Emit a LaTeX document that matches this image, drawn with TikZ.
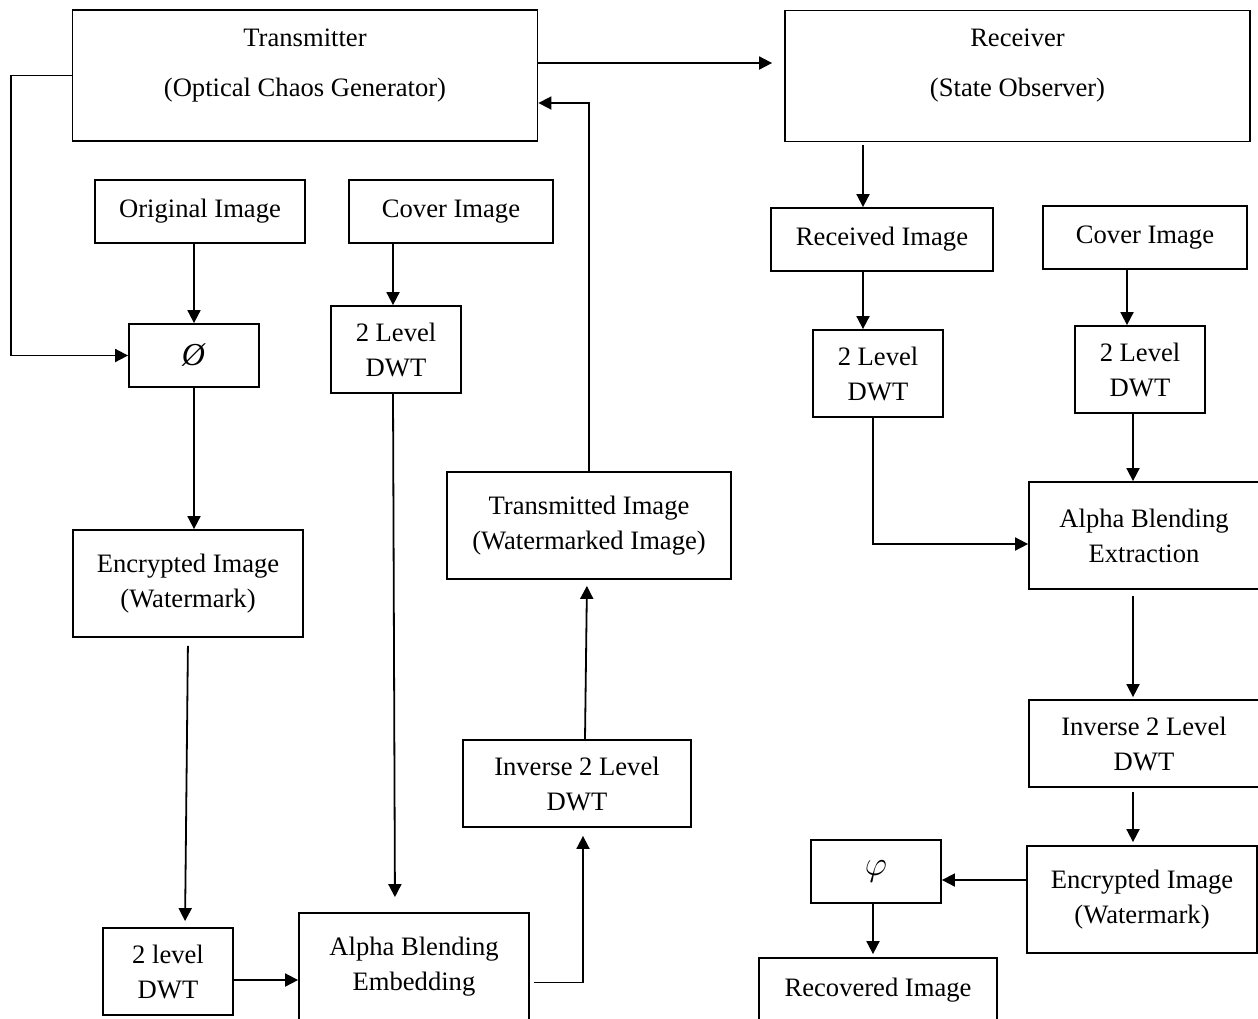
\documentclass[tikz,border=0pt]{standalone}
\usepackage{fontspec}
\setmainfont{Liberation Serif}
\usetikzlibrary{arrows.meta,calc}

\begin{document}
\begin{tikzpicture}[x=0.5pt,y=-0.5pt,
    box/.style={draw,line width=0.9pt,inner sep=0pt,align=center,
        font=\fontsize{13.3}{17.5}\selectfont},
    onebox/.style={box,minimum height=31.5pt},
    twobox/.style={box,minimum width=115pt,minimum height=53.5pt},
    dwtbox/.style={box,minimum width=65pt,minimum height=43.5pt},
    bigbox/.style={box,minimum width=232.5pt,minimum height=65.5pt},
    title/.style={align=center,inner sep=0pt,font=\fontsize{13.3}{25}\selectfont},
    arr/.style={-{Triangle[length=6.5pt,width=6.5pt]},line width=0.9pt}]

    % page
    \clip (0,0) rectangle (1258,1018);

    % transmitter and receiver
    \node[bigbox] (tx) at (305,75.5) {};
    \node[title] (txtext) at (305,66) {Transmitter\\(Optical Chaos Generator)};
    \node[bigbox] (rx) at (1017.5,76) {};
    \node[title] (rxtext) at (1017.5,66) {Receiver\\(State Observer)};

    % embedding side
    \node[onebox,minimum width=105pt] (orig) at (200,211.5) {Original Image};
    \node[onebox,minimum width=102pt] (cover) at (451,211.5) {Cover Image};
    \node[onebox,minimum width=65pt] (enc) at (194,355.5) {\fontsize{16}{18}\selectfont\textit{Ø}};
    \node[dwtbox] (dwta) at (396,349.5) {2 Level\\DWT};
    \node[twobox] (wmark) at (188,583.5) {Encrypted Image\\(Watermark)};
    \node[box,minimum width=142pt,minimum height=53.5pt] (trans) at (589,525.5)
        {Transmitted Image\\(Watermarked Image)};
    \node[box,minimum width=114pt,minimum height=43.5pt] (idwta) at (577,783.5)
        {Inverse 2 Level\\DWT};
    \node[dwtbox] (dwtb) at (168,971.5) {2 level\\DWT};
    \node[twobox] (embed) at (414,966.5) {Alpha Blending\\Embedding};

    % extraction side
    \node[onebox,minimum width=111pt] (recv) at (882,239.5) {Received Image};
    \node[onebox,minimum width=102pt] (coverr) at (1145,237.5) {Cover Image};
    \node[dwtbox] (dwtc) at (878,373.5) {2 Level\\DWT};
    \node[dwtbox] (dwtd) at (1140,369.5) {2 Level\\DWT};
    \node[twobox] (extr) at (1144,535.5) {Alpha Blending\\Extraction};
    \node[box,minimum width=115pt,minimum height=43.5pt] (idwtb) at (1144,743.5)
        {Inverse 2 Level\\DWT};
    \node[twobox] (wmarkr) at (1142,899.5) {Encrypted Image\\(Watermark)};
    \node[onebox,minimum width=65pt] (dec) at (876,871.5) {\fontsize{19}{20}\selectfont$\varphi$};
    \node[box,minimum width=119pt,minimum height=32pt] (recov) at (878,990)
        {Recovered Image};

    % transmitter links
    \draw[arr,shorten >=6pt] ([yshift=6.25pt]tx.east) -- ([yshift=6.25pt]tx.east -| rx.west);
    \draw[arr] (tx.west) -| (11,355.5) -- (enc.west);
    \draw[arr] (enc.north |- orig.south) -- (enc.north);
    \draw[arr] (enc.south) -- (enc.south |- wmark.north);
    \draw[arr] ([xshift=-1.5pt]dwta.north |- cover.south) -- ([xshift=-1.5pt]dwta.north);
    \draw[arr,shorten >=7.5pt] ([xshift=-1.5pt]dwta.south) -- ([xshift=-0.5pt]dwta.south |- embed.north);
    \draw[arr,shorten <=4pt,shorten >=3pt] (wmark.south) -- ([xshift=8.5pt]dwtb.north);
    \draw[arr] ([yshift=-4.25pt]dwtb.east) -- ([yshift=-4.25pt]dwtb.east -| embed.west);
    \draw[arr,shorten <=2pt] ([yshift=-8pt]embed.east) -| ([xshift=3pt,yshift=-4pt]idwta.south);
    \draw[arr,shorten >=3pt] ([xshift=4pt]idwta.north) -- ([xshift=-1pt]trans.south);
    \draw[arr] (trans.north) |- ([yshift=-13.75pt]tx.east);

    % receiver links
    \draw[arr,shorten <=1.5pt] ([xshift=-9.5pt]recv.north |- rx.south) -- ([xshift=-9.5pt]recv.north);
    \draw[arr] ([xshift=-9.5pt]recv.south) -- ([xshift=-9.5pt]recv.south |- dwtc.north);
    \draw[arr] ([xshift=-9pt]coverr.south) -- ([xshift=-6.5pt]dwtd.north);
    \draw[arr] ([xshift=-3.5pt]dwtd.south) -- ([xshift=-5.5pt]extr.north);
    \draw[arr] ([xshift=-2.5pt]dwtc.south) |- ([yshift=-4.25pt]extr.west);
    \draw[arr,shorten <=3pt,shorten >=1pt] ([xshift=-5.5pt]extr.south) -- ([xshift=-5.5pt]idwtb.north);
    \draw[arr,shorten <=2pt,shorten >=1.5pt] ([xshift=-5.5pt]idwtb.south) -- ([xshift=-4.5pt]wmarkr.north);
    \draw[arr] ([yshift=9.75pt]wmarkr.west) -- ([yshift=9.75pt]wmarkr.west -| dec.east);
    \draw[arr,shorten >=1.5pt] ([xshift=-1.5pt]dec.south) -- ([xshift=-1.5pt]dec.south |- recov.north);

\end{tikzpicture}
\end{document}
